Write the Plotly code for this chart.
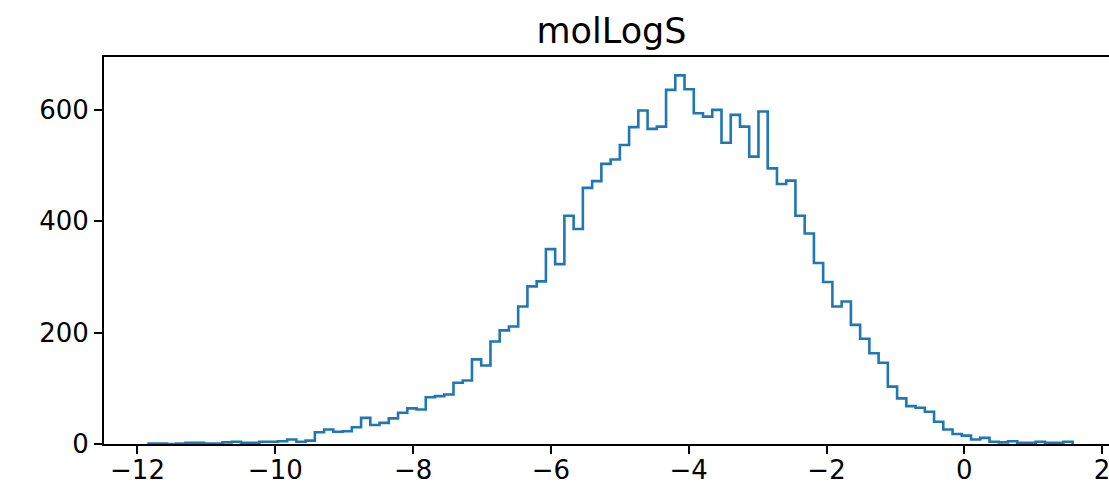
import numpy as np
import plotly.graph_objects as go

# histogram of molLogS: 100 equal-width bins between data min and max
data_min = -11.84
data_max = 1.573
bin_counts = [1, 1, 0, 1, 2, 2, 1, 1, 3, 4, 2, 2, 4, 4, 5, 8, 4, 6,
              21, 26, 22, 23, 30, 47, 34, 38, 46, 56, 64, 62, 84, 86, 89, 110,
              114, 152, 141, 184, 204, 211, 247, 283, 292, 350, 323, 410, 386, 460,
              472, 503, 511, 537, 569, 599, 566, 570, 636, 662, 637, 594, 588, 600,
              541, 591, 570, 516, 597, 495, 467, 473, 410, 378, 325, 291, 247, 256,
              214, 189, 163, 146, 103, 82, 68, 65, 58, 40, 26, 18, 15, 8, 11, 4,
              3, 5, 2, 2, 4, 2, 2, 4]
x_ticks = [-12, -10, -8, -6, -4, -2, 0, 2]
y_ticks = [0, 200, 400, 600]
title_text = "molLogS"

edges = np.linspace(data_min, data_max, len(bin_counts) + 1)
xs = np.concatenate([[edges[0]], edges, [edges[-1]]])
ys = [0] + list(bin_counts) + [bin_counts[-1], 0]

fig = go.Figure(go.Scatter(
    x=xs, y=ys, mode="lines", line_shape="hv",
    line=dict(color="#1f77b4", width=2.6), hoverinfo="skip", showlegend=False,
))

font = "DejaVu Sans, Arial, sans-serif"
fig.update_layout(
    width=1109, height=491,
    margin=dict(l=104, r=0, t=57, b=47, autoexpand=False),
    paper_bgcolor="white", plot_bgcolor="white",
    title=dict(text=title_text, x=(104 + 1119) / 2 / 1109, xanchor="center",
               y=1 - 31 / 491, yanchor="middle",
               font=dict(family=font, size=35, color="black")),
    font=dict(family=font, color="black"),
)
fig.update_xaxes(
    range=[-12.486, 2.100], tickmode="array", tickvals=x_ticks,
    showgrid=False, zeroline=False, showline=True, linecolor="black", linewidth=2,
    mirror=True, ticks="outside", ticklen=8, tickwidth=2, tickcolor="black",
    ticklabeloverflow="allow", ticklabelstandoff=-6,
    tickfont=dict(family=font, size=26, color="black"),
)
fig.update_yaxes(
    range=[0, 695], tickmode="array", tickvals=y_ticks,
    showgrid=False, zeroline=False, showline=True, linecolor="black", linewidth=2,
    mirror=False, ticks="outside", ticklen=8, tickwidth=2, tickcolor="black",
    tickfont=dict(family=font, size=26, color="black"),
)

fig.write_html("out.html")
